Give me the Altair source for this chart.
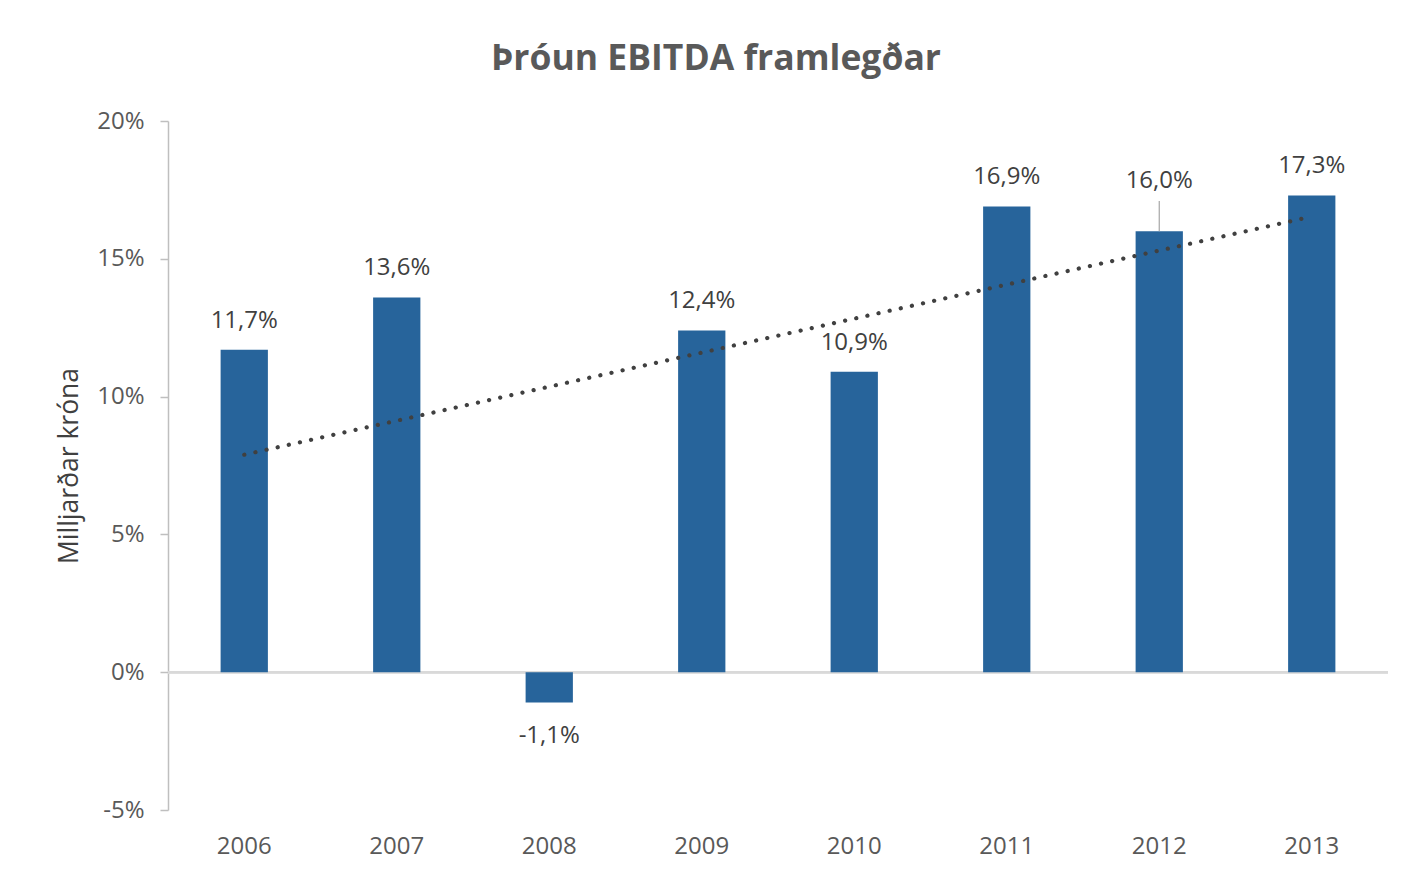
import altair as alt
import pandas as pd

years = ["2006", "2007", "2008", "2009", "2010", "2011", "2012", "2013"]
values = [11.7, 13.6, -1.1, 12.4, 10.9, 16.9, 16.0, 17.3]
y_ticks = [-5, 0, 5, 10, 15, 20]
title_text = "Þróun EBITDA framlegðar"
y_title = "Milljarðar króna"

df = pd.DataFrame({"year": years, "value": values, "idx": list(range(1, len(years) + 1))})

FONT = "Open Sans"
BAR = "#27649b"
LABEL = "#404040"
AXIS_TXT = "#595959"

x_enc = alt.X("year:N", sort=years,
              scale=alt.Scale(domain=years, paddingInner=0.69, paddingOuter=0.345),
              axis=alt.Axis(title=None, labelAngle=0, domain=False, ticks=False,
                            labelPadding=24, labelFontSize=24, labelColor=AXIS_TXT,
                            labelFont=FONT))
y_enc = alt.Y("value:Q",
              scale=alt.Scale(domain=[-5, 20], nice=False, zero=False),
              axis=alt.Axis(title=y_title, values=y_ticks, grid=False,
                            labelExpr="datum.value + '%'",
                            domainColor="#bfbfbf", tickColor="#bfbfbf", tickSize=8,
                            domainWidth=1.5, tickWidth=1.5,
                            labelPadding=16, labelFontSize=24, labelColor=AXIS_TXT,
                            labelFont=FONT, titleFont=FONT, titleFontSize=26.5,
                            titleFontWeight="normal", titleColor=LABEL, titlePadding=13))

base = alt.Chart(df)

zero = base.mark_rule(color="#d9d9d9", strokeWidth=2).encode(y=alt.datum(0))

bars = base.mark_bar(color=BAR).encode(x=x_enc, y=y_enc, y2=alt.datum(0))

label_expr = "replace(replace(format(datum.value, '.1f'), '.', ','), '\u2212', '-') + '%'"

txt_pos = base.transform_filter("datum.value >= 0 && datum.year != '2012'").transform_calculate(
    lbl=label_expr).mark_text(font=FONT, fontSize=24, color=LABEL, baseline="middle", dy=-29
).encode(x=alt.X("year:N", sort=years), y="value:Q", text="lbl:N")

txt_moved = base.transform_filter("datum.year == '2012'").transform_calculate(
    lbl=label_expr).mark_text(font=FONT, fontSize=24, color=LABEL, baseline="middle", dy=-50
).encode(x=alt.X("year:N", sort=years), y="value:Q", text="lbl:N")

leader = base.transform_filter("datum.year == '2012'").transform_calculate(
    top="datum.value + 1.1").mark_rule(color="#a6a6a6", strokeWidth=1.2
).encode(x=alt.X("year:N", sort=years), y="value:Q", y2="top:Q")

txt_neg = base.transform_filter("datum.value < 0").transform_calculate(
    lbl=label_expr).mark_text(font=FONT, fontSize=24, color=LABEL, baseline="middle", dy=33
).encode(x=alt.X("year:N", sort=years), y="value:Q", text="lbl:N")

trend = base.transform_regression("idx", "value", method="linear").transform_calculate(
    year="toString(2005 + round(datum.idx))").mark_line(
    color="#404040", strokeWidth=4.2, strokeDash=[0.1, 11.3], strokeCap="round"
).encode(x=alt.X("year:N", sort=years), y="value:Q")

chart = alt.layer(zero, bars, leader, trend, txt_pos, txt_moved, txt_neg).properties(
    width=1220, height=689,
    title=alt.TitleParams(title_text, font=FONT, fontSize=35.5, fontWeight="bold",
                          color=AXIS_TXT, anchor="middle", baseline="alphabetic",
                          offset=4, dx=-62),
    autosize=alt.AutoSizeParams(type="none"),
    padding={"left": 160, "top": 113, "right": 8, "bottom": 60},
    background="white",
).configure_view(strokeWidth=0, stroke="transparent")

chart.save("out.html", embed_options={"renderer": "svg", "actions": False})
